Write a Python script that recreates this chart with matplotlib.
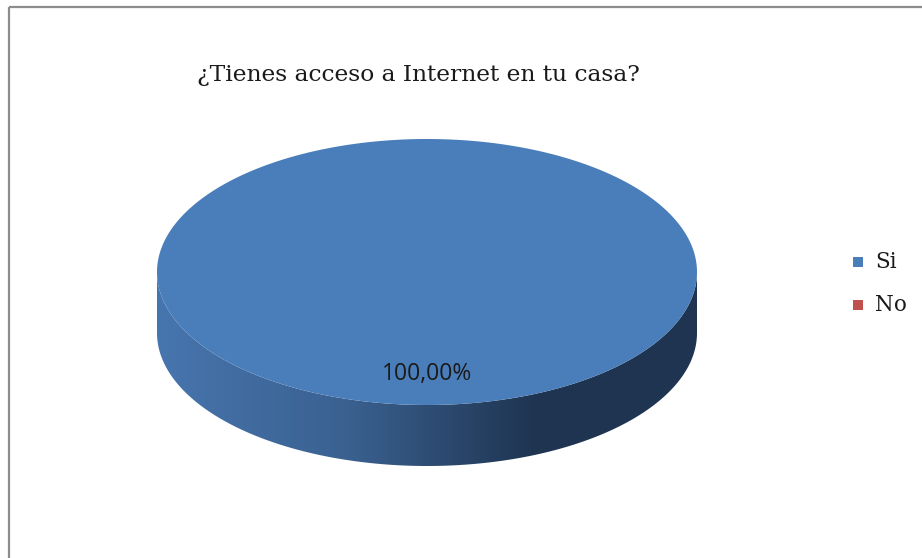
"""
3D-style pie chart: acceso a Internet en casa.
"""
import matplotlib
matplotlib.use("Agg")
import matplotlib.pyplot as plt
import numpy as np
from matplotlib.patches import Polygon, Rectangle
from matplotlib.colors import LinearSegmentedColormap

labels = ["Si", "No"]
values = [100.0, 0.0]
title = "¿Tienes acceso a Internet en tu casa?"

TOP_COLORS = ["#4a7ebb", "#c0504d"]
SIDE_COLORS = [
    [(0.0, "#4775ae"), (0.35, "#3a6190"), (0.7, "#1f3451"), (1.0, "#1f3552")],
    [(0.0, "#c0504d"), (1.0, "#6e2a28")],
]

W, H = 922, 558
cx, cy, rx, ry, depth = 427, 272, 270, 133, 61


def ell(a, dy=0.0):
    # angle measured clockwise from 12 o'clock, screen coords (y down)
    return cx + rx * np.sin(a), cy - ry * np.cos(a) + dy


fig = plt.figure(figsize=(W / 100, H / 100), dpi=100)
ax = fig.add_axes([0, 0, 1, 1])
ax.set_xlim(0, W)
ax.set_ylim(H, 0)
ax.axis("off")

# chart border
ax.add_patch(Rectangle((9, 7), W, H, fill=False, edgecolor="#8c8c8c", lw=1.6, zorder=0))

total = sum(values)
start = 0.0
for i, v in enumerate(values):
    frac = v / total
    if frac <= 0:
        continue
    end = start + 2 * np.pi * frac

    # side (only the front half is visible)
    s0, s1 = max(start, np.pi / 2), min(end, 3 * np.pi / 2)
    if s1 > s0:
        t = np.linspace(s0, s1, 200)
        x1, y1 = ell(t)
        x2, y2 = ell(t[::-1], depth)
        side = Polygon(np.column_stack([np.r_[x1, x2], np.r_[y1, y2]]),
                       closed=True, facecolor="none", edgecolor="none")
        ax.add_patch(side)
        cmap = LinearSegmentedColormap.from_list("side%d" % i, SIDE_COLORS[i])
        grad = np.linspace(0, 1, 256).reshape(1, -1)
        im = ax.imshow(grad, cmap=cmap, aspect="auto",
                       extent=[cx - rx, cx + rx, cy + ry + depth, cy - ry],
                       zorder=2, interpolation="bilinear")
        im.set_clip_path(side)

    # top face
    t = np.linspace(start, end, 400)
    x, y = ell(t)
    if frac < 1:
        x, y = np.r_[cx, x], np.r_[cy, y]
    ax.add_patch(Polygon(np.column_stack([x, y]), closed=True,
                         facecolor=TOP_COLORS[i], edgecolor="none", zorder=3))

    # data label
    mid = (start + end) / 2
    lx = cx + 0.76 * rx * np.sin(mid) * (0 if frac == 1 else 1)
    ly = cy - 0.77 * ry * np.cos(mid)
    ax.text(lx, ly, f"{v:.2f}%".replace(".", ","), ha="center", va="center",
            fontsize=16.5, family="Open Sans", color="#1a1a1a", zorder=4)
    start = end

ax.text(418, 75, title, ha="center", va="center", fontsize=16.8,
        family="DejaVu Serif", color="#1a1a1a")

# legend
for i, lab in enumerate(labels):
    yy = 262 + i * 43
    ax.add_patch(Rectangle((853, yy - 5), 10, 10, facecolor=TOP_COLORS[i],
                           edgecolor="none"))
    ax.text(875, yy, lab, ha="left", va="center", fontsize=15.5,
            family="DejaVu Serif", color="#1a1a1a")

fig.savefig("out.png", dpi=100)
